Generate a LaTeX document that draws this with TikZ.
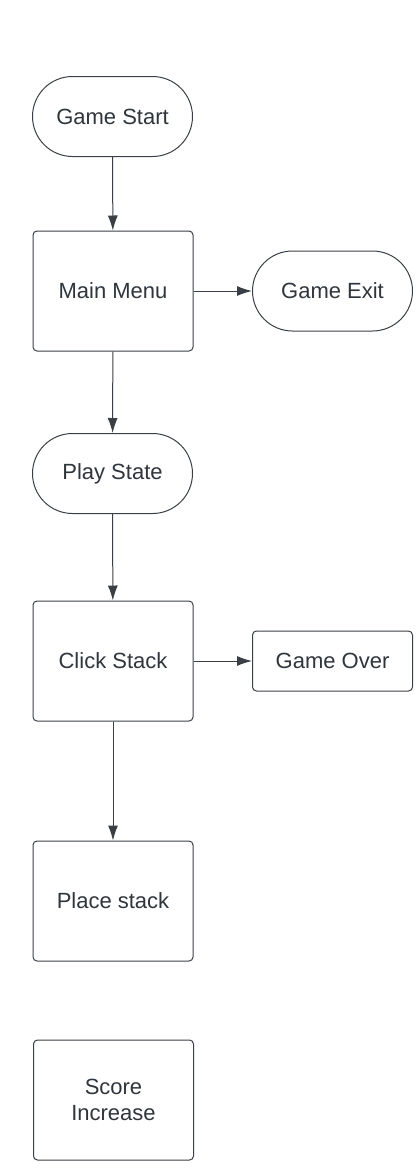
\documentclass[tikz,border=0pt]{standalone}
\usepackage{fontspec}
\setmainfont{Liberation Sans}
\usetikzlibrary{arrows.meta,shapes}
\definecolor{linecol}{HTML}{3A3F45}
\definecolor{textcol}{HTML}{2F353B}
\tikzstyle{block}=[draw=linecol,line width=1pt,rectangle,rounded corners=4pt,minimum width=160pt,minimum height=120pt,inner sep=0pt,text=textcol,font=\fontsize{22}{26}\selectfont,align=center]
\tikzstyle{terminal} = [block, rounded corners=40pt, minimum height=80pt]
\tikzstyle{small block} = [block, minimum height=60pt]
\tikzstyle{flow} = [draw=linecol,line width=1pt,-{Latex[length=15pt,width=10pt]}]

\begin{document}
\begin{tikzpicture}[x=1pt,y=-1pt]
    \useasboundingbox (0,0) rectangle (417,1175);
    % the terminals
    \foreach \pos/\name/\txt in {{(112.5,116.5)/start/Game Start}, {(332.5,291)/exit/Game Exit}, {(112.5,473.5)/play/Play State}}
        \node[terminal] (\name) at \pos {\txt};

    % the steps
    \foreach \pos/\name/\txt in {{(113,291)/menu/Main Menu}, {(113,661)/click/Click Stack}, {(113,901)/place/Place stack}, {(113.5,1100)/score/Score\\Increase}}
        \node[block] (\name) at \pos {\txt};

    \node[small block] (over) at (332.5,661) {Game Over};

    % connect them
    \foreach \source/\dest in {start/menu, menu/play, play/click, click/place}
        \path[flow] (\source) -- (\dest);
    \foreach \source/\dest in {menu/exit, click/over}
        \path[flow] (\source) -- (\dest);

\end{tikzpicture}
\end{document}
